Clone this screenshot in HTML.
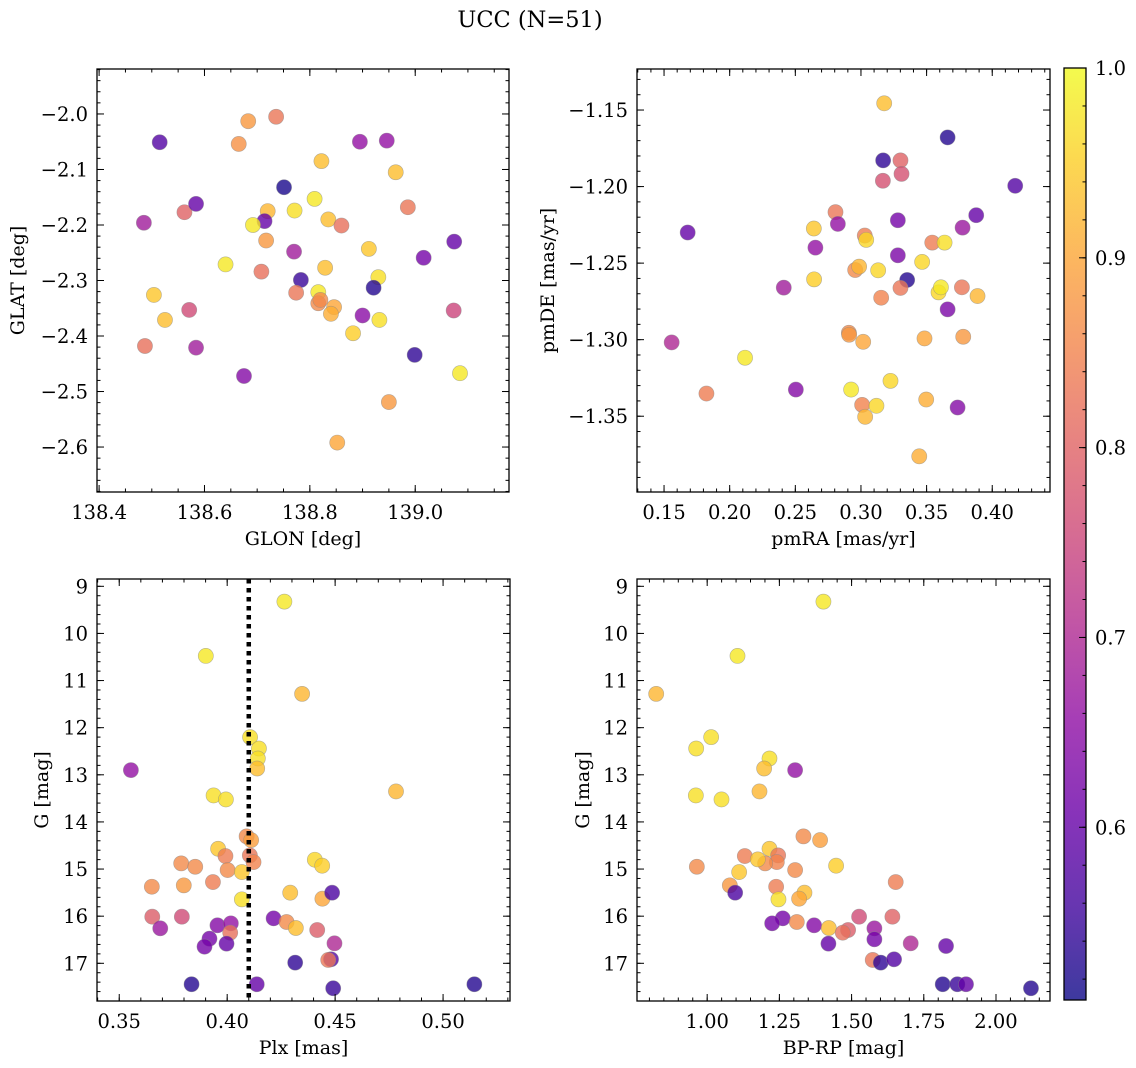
<!DOCTYPE html>
<html><head><meta charset="utf-8">
<style>
html,body{margin:0;padding:0;background:#fff;}
svg{display:block;font-family:"DejaVu Serif","Liberation Serif",serif;}
</style></head>
<body>
<svg id="fig" width="1136" height="1068" viewBox="0 0 1136 1068" xmlns="http://www.w3.org/2000/svg">
<text x="530" y="27" font-size="22.5" text-anchor="middle">UCC (N=51)</text>
</svg>
<script>
// ---- data ----
const glon = [138.515,138.485,138.562,138.584,138.683,138.736,138.665,138.751,138.822,138.895,138.946,138.963,138.809,138.771,138.720,138.714,138.692,138.835,138.860,138.986,139.074,139.016,138.912,138.717,138.770,138.640,138.708,138.829,138.783,138.930,138.921,138.774,138.816,138.816,138.846,138.840,138.900,138.932,138.504,138.525,138.571,139.073,138.487,138.584,138.882,138.999,138.675,139.085,138.950,138.852,138.820];
const glat = [-2.051,-2.196,-2.177,-2.162,-2.013,-2.005,-2.054,-2.132,-2.085,-2.050,-2.048,-2.105,-2.153,-2.174,-2.175,-2.193,-2.200,-2.190,-2.201,-2.168,-2.230,-2.259,-2.243,-2.228,-2.248,-2.271,-2.284,-2.277,-2.299,-2.294,-2.313,-2.322,-2.321,-2.341,-2.348,-2.360,-2.363,-2.371,-2.326,-2.371,-2.353,-2.354,-2.418,-2.421,-2.395,-2.434,-2.472,-2.467,-2.519,-2.592,-2.335];
const probA = [0.58,0.68,0.80,0.60,0.88,0.83,0.87,0.52,0.93,0.66,0.66,0.93,0.98,0.97,0.92,0.60,0.98,0.93,0.82,0.83,0.60,0.62,0.94,0.88,0.68,0.98,0.82,0.93,0.55,0.97,0.53,0.83,0.98,0.86,0.90,0.91,0.65,0.97,0.94,0.93,0.76,0.75,0.82,0.68,0.95,0.54,0.64,0.98,0.88,0.90,0.86];

const pmra = [0.3177,0.366,0.3169,0.3301,0.3309,0.3167,0.4175,0.168,0.2806,0.2824,0.2641,0.2653,0.3029,0.3040,0.3281,0.3878,0.3774,0.3543,0.3637,0.3281,0.3466,0.2956,0.2986,0.3131,0.2643,0.2412,0.3352,0.3301,0.3154,0.3591,0.3609,0.3769,0.3888,0.3660,0.1558,0.2908,0.2910,0.3017,0.3484,0.3779,0.2117,0.1823,0.2504,0.2925,0.3225,0.3009,0.3118,0.3032,0.3497,0.3736,0.3444];
const pmde = [-1.1456,-1.1679,-1.1829,-1.1829,-1.1917,-1.1962,-1.1995,-1.2300,-1.2167,-1.2244,-1.2274,-1.2399,-1.2320,-1.2348,-1.2220,-1.2187,-1.2268,-1.2366,-1.2366,-1.2449,-1.2492,-1.2545,-1.2523,-1.2547,-1.2606,-1.2660,-1.2610,-1.2662,-1.2726,-1.2691,-1.2658,-1.2658,-1.2715,-1.2802,-1.3018,-1.2955,-1.2968,-1.3014,-1.2992,-1.2981,-1.3118,-1.3352,-1.3326,-1.3326,-1.3269,-1.3426,-1.3432,-1.3504,-1.3391,-1.3443,-1.3762];
const probB = [0.93,0.53,0.54,0.80,0.77,0.77,0.58,0.60,0.83,0.66,0.94,0.66,0.84,0.96,0.62,0.60,0.67,0.84,0.97,0.63,0.96,0.86,0.92,0.96,0.95,0.68,0.53,0.83,0.85,0.96,0.98,0.83,0.92,0.63,0.70,0.86,0.88,0.90,0.90,0.88,0.98,0.84,0.64,0.98,0.96,0.85,0.96,0.92,0.91,0.64,0.91];

const plx = [0.4265,0.3901,0.4347,0.4106,0.4147,0.4142,0.4139,0.3554,0.3937,0.3994,0.4782,0.4090,0.4111,0.3958,0.3992,0.4105,0.4122,0.3787,0.3852,0.4002,0.4068,0.4406,0.4440,0.3651,0.3799,0.3934,0.4068,0.4292,0.4441,0.4486,0.3653,0.3790,0.3690,0.3955,0.4017,0.4014,0.4215,0.4275,0.4318,0.4417,0.3918,0.3895,0.3997,0.4497,0.4481,0.4468,0.4315,0.3835,0.4137,0.4491,0.5145];
const gmagC = [9.325,10.477,11.283,12.201,12.442,12.654,12.866,12.901,13.438,13.523,13.353,14.307,14.385,14.569,14.724,14.710,14.852,14.880,14.951,15.021,15.064,14.802,14.929,15.375,15.346,15.276,15.643,15.502,15.629,15.502,16.011,16.011,16.258,16.194,16.152,16.350,16.046,16.124,16.251,16.293,16.477,16.647,16.583,16.576,16.915,16.929,16.986,17.445,17.445,17.530,17.445];
const probC = [0.98,0.98,0.92,0.97,0.97,0.97,0.93,0.66,0.97,0.97,0.92,0.86,0.89,0.94,0.84,0.83,0.85,0.86,0.86,0.86,0.94,0.96,0.95,0.86,0.88,0.84,0.97,0.93,0.90,0.57,0.79,0.76,0.67,0.64,0.66,0.82,0.62,0.86,0.93,0.79,0.62,0.62,0.60,0.70,0.58,0.83,0.54,0.53,0.60,0.55,0.53];

const bprp = [1.4025,1.1050,0.8235,1.0138,0.9619,1.2157,1.1972,1.3045,0.9608,1.0496,1.1811,1.3333,1.3910,1.2157,1.1303,1.2457,1.2411,1.2007,1.1753,0.9642,1.3045,1.1107,1.4464,1.0784,1.2388,1.6528,1.2468,1.3368,1.3183,1.0969,1.6413,1.5260,1.7047,1.3702,1.2618,1.2249,1.3103,1.4210,1.4879,1.4694,1.5790,1.5790,1.4198,1.8270,1.5732,1.6009,1.6471,1.8155,1.8662,1.8962,2.1211];
const gmagD = [9.325,10.477,11.283,12.201,12.442,12.654,12.866,12.901,13.438,13.523,13.353,14.307,14.385,14.569,14.724,14.710,14.852,14.880,14.795,14.951,15.021,15.064,14.929,15.346,15.375,15.276,15.643,15.502,15.629,15.502,16.011,16.011,16.576,16.194,16.046,16.152,16.124,16.251,16.293,16.350,16.258,16.491,16.583,16.633,16.929,16.986,16.915,17.445,17.445,17.445,17.530];
const probD = [0.98,0.98,0.92,0.97,0.97,0.97,0.93,0.66,0.97,0.97,0.92,0.86,0.89,0.94,0.84,0.83,0.85,0.86,0.94,0.86,0.86,0.94,0.95,0.88,0.84,0.84,0.97,0.93,0.90,0.57,0.80,0.76,0.70,0.64,0.62,0.62,0.86,0.93,0.79,0.82,0.67,0.62,0.60,0.60,0.83,0.54,0.58,0.53,0.55,0.60,0.53];

const plxCut = [0.41];
const ticks1x = [138.4,138.6,138.8,139.0];
const ticks1y = [-2.0,-2.1,-2.2,-2.3,-2.4,-2.5,-2.6];
const ticks2x = [0.15,0.20,0.25,0.30,0.35,0.40];
const ticks2y = [-1.15,-1.20,-1.25,-1.30,-1.35];
const ticks3x = [0.35,0.40,0.45,0.50];
const ticksG = [9,10,11,12,13,14,15,16,17];
const ticks4x = [1.00,1.25,1.50,1.75,2.00];
const ticksCb = [0.6,0.7,0.8,0.9,1.0];

// ---- rendering ----
const NS = 'http://www.w3.org/2000/svg';
const svg = document.getElementById('fig');
const VMIN = 0.509, VMAX = 1.0;
const FS = 19.5;
const PL = [[13,8,135],[65,4,157],[106,0,168],[143,13,164],[177,42,144],[204,71,120],[225,100,98],[242,132,75],[252,166,54],[252,206,37],[240,249,33]];
function plasma(t){t=Math.max(0,Math.min(1,t));const s=t*10,i=Math.min(9,Math.floor(s)),f=s-i;const a=PL[i],b=PL[i+1];
 return 'rgb('+[0,1,2].map(k=>Math.round(a[k]+(b[k]-a[k])*f)).join(',')+')';}
function cmap(v){return plasma((v-VMIN)/(VMAX-VMIN));}
function mk(tag,attrs,parent){const e=document.createElementNS(NS,tag);for(const k in attrs)e.setAttribute(k,attrs[k]);(parent||svg).appendChild(e);return e;}
function fmt(v,d){return (v<0?'\u2212':'')+Math.abs(v).toFixed(d);}

function panel(o){
 const g=mk('g',{});
 
 
 const sx=v=>o.L+(v-o.xd[0])/(o.xd[1]-o.xd[0])*(o.R-o.L);
 const sy=o.inv? v=>o.T+(v-o.yd[0])/(o.yd[1]-o.yd[0])*(o.B-o.T) : v=>o.B-(v-o.yd[0])/(o.yd[1]-o.yd[0])*(o.B-o.T);
 const pg=mk('g',{},g);
 
 
 for(let i=0;i<o.x.length;i++){
  const c=mk('circle',{cx:sx(o.x[i]),cy:sy(o.y[i]),r:7.6,fill:cmap(o.c[i]),'fill-opacity':0.8,stroke:'#888','stroke-opacity':0.6,'stroke-width':0.6},pg);
  
  
 }
 if(o.vline){for(const v of o.vline){const l=mk('line',{x1:sx(v),x2:sx(v),y1:o.T,y2:o.B,stroke:'#000','stroke-width':4.5,'stroke-dasharray':'4.5 4.5'},g);
  
  }}
 const tg=mk('g',{stroke:'#000','stroke-width':1},g);
 function minorRange(d,step){const out=[];const s=Math.ceil(Math.min(d[0],d[1])/step-1e-6);const e=Math.floor(Math.max(d[0],d[1])/step+1e-6);for(let k=s;k<=e;k++)out.push(k*step);return out;}
 for(const v of minorRange(o.xd,o.xm)){const X=sx(v);mk('line',{x1:X,x2:X,y1:o.B,y2:o.B-3.5},tg);mk('line',{x1:X,x2:X,y1:o.T,y2:o.T+3.5},tg);}
 for(const v of minorRange(o.yd,o.ym)){const Y=sy(v);mk('line',{x1:o.L,x2:o.L+3.5,y1:Y,y2:Y},tg);mk('line',{x1:o.R,x2:o.R-3.5,y1:Y,y2:Y},tg);}
 for(const v of o.xt){const X=sx(v);mk('line',{x1:X,x2:X,y1:o.B,y2:o.B-7},tg);mk('line',{x1:X,x2:X,y1:o.T,y2:o.T+7},tg);
  const t=mk('text',{x:X,y:o.B+27,'font-size':FS,'text-anchor':'middle'},g);t.textContent=fmt(v,o.xdig);
  
  }
 for(const v of o.yt){const Y=sy(v);mk('line',{x1:o.L,x2:o.L+7,y1:Y,y2:Y},tg);mk('line',{x1:o.R,x2:o.R-7,y1:Y,y2:Y},tg);
  const t=mk('text',{x:o.L-9,y:Y+7,'font-size':FS,'text-anchor':'end'},g);t.textContent=fmt(v,o.ydig);
  
  }
 const fr=mk('rect',{x:o.L,y:o.T,width:o.R-o.L,height:o.B-o.T,fill:'none',stroke:'#000','stroke-width':1.3},g);
 
 
 const xl=mk('text',{x:(o.L+o.R)/2,y:o.B+53,'font-size':FS-0.5,'text-anchor':'middle'},g);xl.textContent=o.xlab;
 
 
 const yl=mk('text',{x:o.ylx,y:(o.T+o.B)/2,'font-size':FS-0.5,'text-anchor':'middle',transform:'rotate(-90 '+o.ylx+' '+(o.T+o.B)/2+')'},g);yl.textContent=o.ylab;
 
 
}

panel({name:'glon-glat-panel',L:97,R:509,T:69,B:492,xd:[138.396,139.178],yd:[-2.681,-1.919],x:glon,y:glat,c:probA,xt:ticks1x,yt:ticks1y,xm:0.05,ym:0.02,xdig:1,ydig:1,xlab:'GLON [deg]',ylab:'GLAT [deg]',ylx:24});
panel({name:'pm-panel',L:637,R:1050,T:69,B:492,xd:[0.1294,0.4440],yd:[-1.3995,-1.1232],x:pmra,y:pmde,c:probB,xt:ticks2x,yt:ticks2y,xm:0.01,ym:0.01,xdig:2,ydig:2,xlab:'pmRA [mas/yr]',ylab:'pmDE [mas/yr]',ylx:554});
panel({name:'plx-g-panel',L:97,R:510,T:579,B:1001,xd:[0.3397,0.531],yd:[8.845,17.80],inv:true,x:plx,y:gmagC,c:probC,xt:ticks3x,yt:ticksG,xm:0.01,ym:0.2,xdig:2,ydig:0,xlab:'Plx [mas]',ylab:'G [mag]',ylx:48,vline:plxCut});
panel({name:'cmd-panel',L:637,R:1050,T:579,B:1001,xd:[0.757,2.187],yd:[8.845,17.80],inv:true,x:bprp,y:gmagD,c:probD,xt:ticks4x,yt:ticksG,xm:0.05,ym:0.2,xdig:2,ydig:0,xlab:'BP-RP [mag]',ylab:'G [mag]',ylx:589});

// colorbar
(function(){
 const L=1064,R=1086,T=68,B=1000;
 const defs=mk('defs',{});
 const lg=mk('linearGradient',{id:'cbg',x1:0,y1:1,x2:0,y2:0},defs);
 for(let k=0;k<=20;k++){mk('stop',{offset:k/20,'stop-color':plasma(k/20)},lg);}
 const g=mk('g',{});
 
 
 mk('rect',{x:L,y:T,width:R-L,height:B-T,fill:'url(#cbg)','fill-opacity':0.8},g);
 const sy=v=>B-(v-VMIN)/(VMAX-VMIN)*(B-T);
 for(let v=0.52;v<=1.0001;v+=0.02){const Y=sy(v);mk('line',{x1:R,x2:R-3.5,y1:Y,y2:Y,stroke:'#000','stroke-width':1},g);}
 for(const v of ticksCb){const Y=sy(v);mk('line',{x1:R,x2:R-7,y1:Y,y2:Y,stroke:'#000','stroke-width':1},g);
  const t=mk('text',{x:R+9,y:Y+7,'font-size':FS},g);t.textContent=v.toFixed(1);
  
  }
 mk('rect',{x:L,y:T,width:R-L,height:B-T,fill:'none',stroke:'#000','stroke-width':1.3},g);
})();
</script>
</body></html>
